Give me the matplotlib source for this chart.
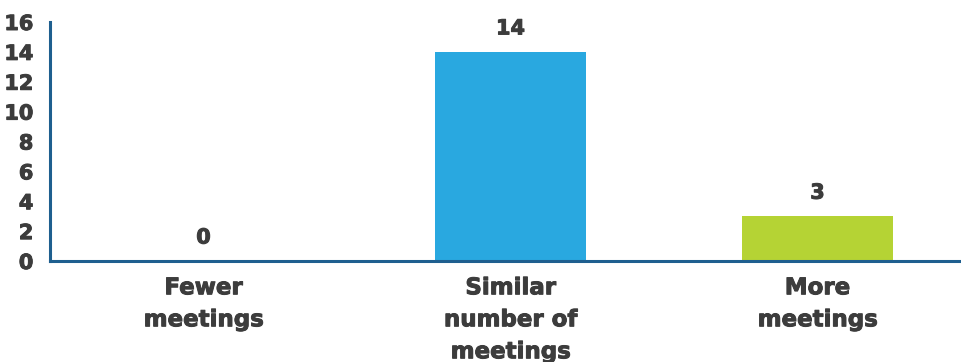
import matplotlib
matplotlib.use("Agg")
import matplotlib.pyplot as plt
import matplotlib.patheffects as pe

categories = ["Fewer\nmeetings", "Similar\nnumber of\nmeetings", "More\nmeetings"]
values = [0, 14, 3]
colors = ["#29A8E0", "#29A8E0", "#B5D334"]
yticks = [0, 2, 4, 6, 8, 10, 12, 14, 16]

plt.rcParams["font.family"] = ["DejaVu Sans"]
text_color = "#3c3c3c"
axis_color = "#1E5F8F"
heavy = [pe.withStroke(linewidth=0.7, foreground=text_color)]

W, H = 961, 362
fig = plt.figure(figsize=(W / 100, H / 100), dpi=100)
ax = fig.add_axes([50 / W, 1 - 261 / H, 1 - 50 / W, (261 - 22) / H])

x = list(range(len(categories)))
bars = ax.bar(x, values, width=0.495, color=colors, zorder=2)

for xi, v in zip(x, values):
    ax.text(xi, v + 0.9, str(v), ha="center", va="bottom",
            fontsize=15, fontweight="bold", color=text_color, path_effects=heavy)

ax.set_xlim(-0.5, (W - 50) / 307 - 0.5)
ax.set_ylim(0, 16)
ax.set_yticks(yticks)
ax.set_yticklabels([str(t) for t in yticks], fontsize=15, fontweight="bold",
                   color=text_color, path_effects=heavy)
ax.set_xticks(x)
ax.set_xticklabels(categories, fontsize=16.5, fontweight="bold", color=text_color,
                   linespacing=1.5, path_effects=heavy)
ax.tick_params(axis="y", length=0, pad=12)
ax.tick_params(axis="x", length=0, pad=11)

for side in ["top", "right"]:
    ax.spines[side].set_visible(False)
for side in ["left", "bottom"]:
    ax.spines[side].set_color(axis_color)
    ax.spines[side].set_linewidth(2.2)

fig.savefig("out.png", dpi=100)
